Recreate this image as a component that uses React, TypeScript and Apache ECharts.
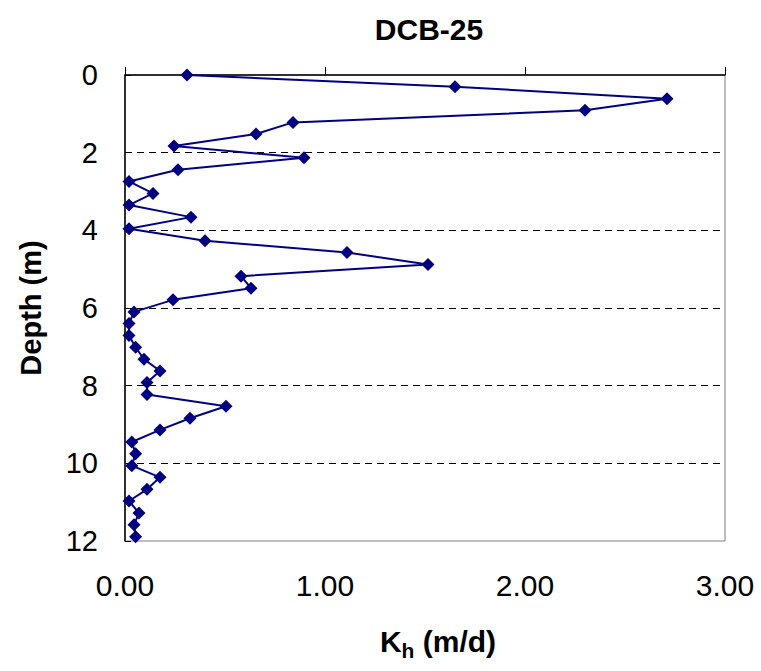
import React, { useEffect, useRef } from "react";
import * as echarts from "echarts";

const titleText = "DCB-25";
const depthM = [
  0, 0.3, 0.61, 0.91, 1.22, 1.52, 1.83, 2.13, 2.44, 2.74, 3.05, 3.35, 3.66, 3.96, 4.27, 4.57, 4.88, 5.18,
  5.49, 5.79, 6.1, 6.4, 6.71, 7.01, 7.32, 7.62, 7.92, 8.23, 8.53, 8.84, 9.14, 9.45, 9.75, 10.06, 10.36,
  10.67, 10.97, 11.28, 11.58, 11.89,
];
const khValues = [
  0.31, 1.65, 2.71, 2.3, 0.84, 0.655, 0.245, 0.895, 0.265, 0.02, 0.14, 0.02, 0.33, 0.02, 0.4, 1.11, 1.515,
  0.58, 0.63, 0.24, 0.045, 0.02, 0.02, 0.053, 0.095, 0.175, 0.11, 0.11, 0.505, 0.325, 0.175, 0.034, 0.053,
  0.034, 0.175, 0.11, 0.02, 0.07, 0.045, 0.053,
];
const xTicks = [0, 1, 2, 3];
const yTicks = [0, 2, 4, 6, 8, 10, 12];

const FONT = "'Liberation Sans', Arial, sans-serif";

export default function App() {
  const ref = useRef<HTMLDivElement>(null);
  useEffect(() => {
    document.body.style.margin = "0";
    if (!ref.current) return;
    const chart = echarts.init(ref.current, null, { renderer: "svg" });
    const data = khValues.map((v, i) => [v, depthM[i]]);
    chart.setOption({
      animation: false,
      backgroundColor: "#ffffff",
      title: {
        text: titleText,
        left: 424,
        top: 9,
        textAlign: "center",
        textStyle: { fontFamily: FONT, fontSize: 30, fontWeight: "bold", color: "#000" },
      },
      grid: {
        left: 125,
        right: 36,
        top: 75,
        bottom: 130,
        show: true,
        borderColor: "#808080",
        borderWidth: 1,
        backgroundColor: "transparent",
      },
      xAxis: {
        type: "value",
        min: xTicks[0],
        max: xTicks[xTicks.length - 1],
        interval: xTicks[1] - xTicks[0],
        name: "{k|K}{s|h}{k| (m/d)}",
        nameLocation: "middle",
        nameGap: 85,
        nameTextStyle: {
          padding: [0, 0, 0, 26],
          rich: {
            k: { fontFamily: FONT, fontSize: 30, fontWeight: "bold", color: "#000", lineHeight: 31, verticalAlign: "top" },
            s: { fontFamily: FONT, fontSize: 21, fontWeight: "bold", color: "#000", lineHeight: 21, padding: [14, 0, 0, 0], verticalAlign: "top" },
          },
        },
        axisLine: { show: true, lineStyle: { color: "#000", width: 1.5 } },
        axisTick: { show: true, inside: true, length: 8, lineStyle: { color: "#000" } },
        splitLine: { show: false },
        axisLabel: {
          fontFamily: FONT,
          fontSize: 30,
          color: "#000",
          margin: 29,
          formatter: (v: number) => v.toFixed(2),
        },
      },
      yAxis: {
        type: "value",
        inverse: true,
        min: yTicks[0],
        max: yTicks[yTicks.length - 1],
        interval: yTicks[1] - yTicks[0],
        name: "Depth (m)",
        nameLocation: "middle",
        nameRotate: 90,
        nameGap: 80,
        nameTextStyle: { fontFamily: FONT, fontSize: 29, fontWeight: "bold", color: "#000" },
        axisLine: { show: true, lineStyle: { color: "#000", width: 1.5 } },
        axisTick: { show: true, inside: true, length: 6, lineStyle: { color: "#000" } },
        splitLine: {
          show: true,
          showMinLine: false,
          showMaxLine: false,
          lineStyle: { color: "#000", type: [7, 5], width: 1 },
        },
        axisLabel: { fontFamily: FONT, fontSize: 29, color: "#000", margin: 27 },
      },
      series: [
        {
          type: "line",
          data,
          symbol: "diamond",
          symbolSize: 13,
          lineStyle: { color: "#000080", width: 2 },
          itemStyle: { color: "#000080" },
          clip: false,
        },
      ],
    });
    return () => chart.dispose();
  }, []);
  return <div ref={ref} style={{ width: 761, height: 671 }} />;
}
